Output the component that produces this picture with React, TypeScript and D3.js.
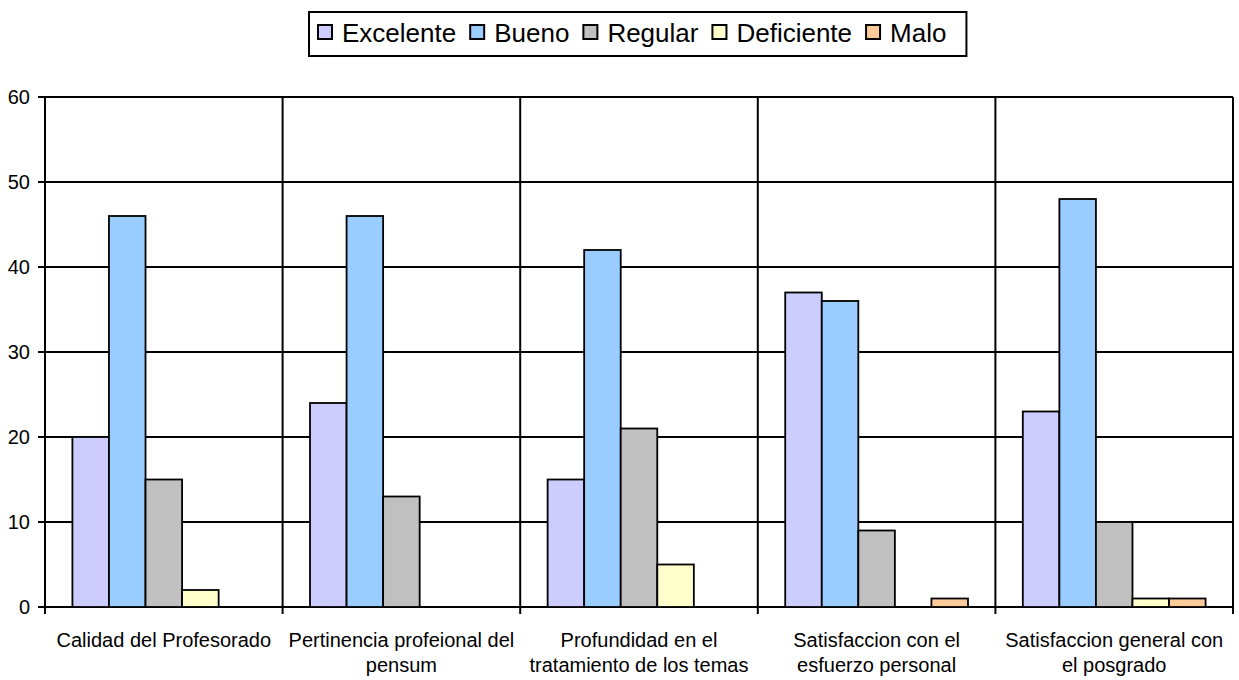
import { useEffect, useRef } from "react";
import * as d3 from "d3";

const categories = [
  "Calidad del Profesorado",
  "Pertinencia profeional del pensum",
  "Profundidad en el tratamiento de los temas",
  "Satisfaccion con el esfuerzo personal",
  "Satisfaccion general con el posgrado",
];
const seriesNames = ["Excelente", "Bueno", "Regular", "Deficiente", "Malo"];
const seriesColors = ["#ccccff", "#99ccff", "#c0c0c0", "#ffffcc", "#ffcc99"];
const excelente = [20, 24, 15, 37, 23];
const bueno = [46, 46, 42, 36, 48];
const regular = [15, 13, 21, 9, 10];
const deficiente = [2, 0, 5, 0, 1];
const malo = [0, 0, 0, 1, 1];
const yTicks = [0, 10, 20, 30, 40, 50, 60];

export default function App() {
  const svgRef = useRef<SVGSVGElement | null>(null);

  useEffect(() => {
    document.body.style.margin = "0";
    const width = 1239;
    const height = 680;
    const margin = { top: 97, right: 6, bottom: 73, left: 45 };
    const font = "'Liberation Sans', Arial, sans-serif";

    const svg = d3.select(svgRef.current).attr("width", width).attr("height", height);
    svg.selectAll("*").remove();

    const values = [excelente, bueno, regular, deficiente, malo];
    const chartW = width - margin.left - margin.right;
    const chartH = height - margin.top - margin.bottom;

    const x = d3.scaleBand<string>().domain(categories).range([0, chartW]);
    const inner = d3
      .scaleBand<string>()
      .domain(seriesNames)
      .range([0, x.bandwidth()])
      .paddingOuter(0.75)
      .paddingInner(0);
    const y = d3.scaleLinear().domain([0, 60]).range([chartH, 0]);

    const g = svg.append("g").attr("transform", `translate(${margin.left},${margin.top})`);

    // gridlines + y ticks
    g.selectAll("line.grid")
      .data(yTicks)
      .join("line")
      .attr("x1", -7)
      .attr("x2", chartW)
      .attr("y1", (d) => y(d))
      .attr("y2", (d) => y(d))
      .attr("stroke", "#000")
      .attr("stroke-width", 2);

    g.selectAll("text.ylab")
      .data(yTicks)
      .join("text")
      .attr("x", -15)
      .attr("y", (d) => y(d))
      .attr("dy", "0.35em")
      .attr("text-anchor", "end")
      .attr("font-family", font)
      .attr("font-size", 20)
      .text((d) => d);

    // category dividers
    const dividers = [...categories.map((c) => x(c)!), chartW];
    g.selectAll("line.div")
      .data(dividers)
      .join("line")
      .attr("x1", (d) => d)
      .attr("x2", (d) => d)
      .attr("y1", 0)
      .attr("y2", chartH + 7)
      .attr("stroke", "#000")
      .attr("stroke-width", 2);

    // bars
    seriesNames.forEach((s, si) => {
      g.append("g")
        .selectAll("rect")
        .data(values[si].map((v, ci) => ({ v, c: categories[ci] })).filter((d) => d.v > 0))
        .join("rect")
        .attr("x", (d) => x(d.c)! + inner(s)!)
        .attr("y", (d) => y(d.v))
        .attr("width", inner.bandwidth())
        .attr("height", (d) => chartH - y(d.v))
        .attr("fill", seriesColors[si])
        .attr("stroke", "#000")
        .attr("stroke-width", 1.8);
    });

    // category labels with wrapping
    categories.forEach((c) => {
      const cx = x(c)! + x.bandwidth() / 2;
      const t = g
        .append("text")
        .attr("text-anchor", "middle")
        .attr("font-family", font)
        .attr("font-size", 20)
        .attr("x", cx)
        .attr("y", chartH + 40);
      const words = c.split(" ");
      let line: string[] = [];
      let tspan = t.append("tspan").attr("x", cx).attr("dy", 0);
      for (const w of words) {
        line.push(w);
        tspan.text(line.join(" "));
        if ((tspan.node() as SVGTSpanElement).getComputedTextLength() > x.bandwidth() - 4 && line.length > 1) {
          line.pop();
          tspan.text(line.join(" "));
          line = [w];
          tspan = t.append("tspan").attr("x", cx).attr("dy", 25).text(w);
        }
      }
    });

    // legend
    const lg = svg.append("g").attr("transform", "translate(309,12)");
    const box = lg.append("rect").attr("fill", "#fff").attr("stroke", "#000").attr("stroke-width", 2);
    let lx = 9;
    seriesNames.forEach((s, i) => {
      lg.append("rect")
        .attr("x", lx)
        .attr("y", 13)
        .attr("width", 14)
        .attr("height", 14)
        .attr("fill", seriesColors[i])
        .attr("stroke", "#000")
        .attr("stroke-width", 2);
      const tx = lg
        .append("text")
        .attr("x", lx + 24)
        .attr("y", 30)
        .attr("font-family", font)
        .attr("font-size", 26)
        .text(s);
      lx += 24 + (tx.node() as SVGTextElement).getComputedTextLength() + 14;
    });
    box.attr("x", 0).attr("y", 0).attr("width", lx + 6).attr("height", 44);
  }, []);

  return <svg ref={svgRef} style={{ display: "block" }}></svg>;
}
